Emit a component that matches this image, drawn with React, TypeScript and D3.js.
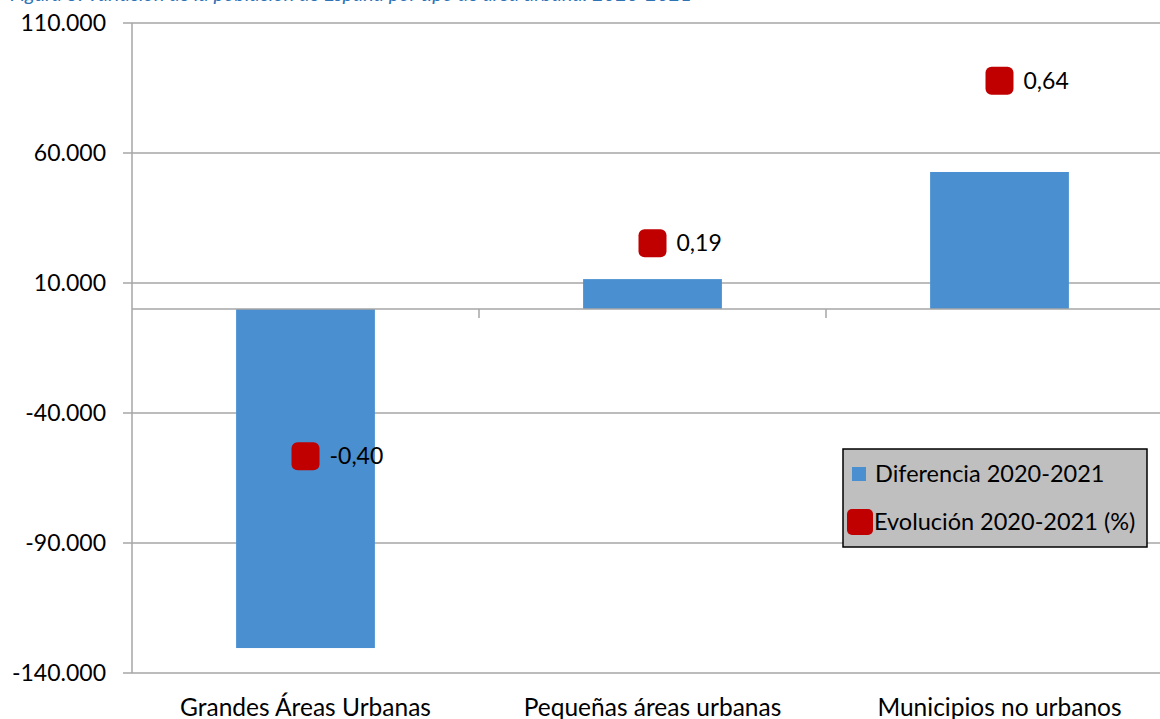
import React from 'react';
import * as d3 from 'd3';

const categories = ['Grandes Áreas Urbanas', 'Pequeñas áreas urbanas', 'Municipios no urbanos'];
const diferencia = [-130400, 11500, 52700];
const evolucion = [-0.4, 0.19, 0.64];
const yTicks = [110000, 60000, 10000, -40000, -90000, -140000];
const seriesNames = ['Diferencia 2020-2021', 'Evolución 2020-2021 (%)'];
const titleText = 'Figura 3. Variación de la población de España por tipo de área urbana. 2020-2021';

const W = 1160;
const H = 719;
const BLUE = '#4a8fd0';
const RED = '#c00000';
const GRID = '#a6a6a6';
const FONT = 'Lato, "Open Sans", sans-serif';

const es = d3.formatLocale({ decimal: ',', thousands: '.', grouping: [3], currency: ['', '€'], minus: '-' });
const fmtThousands = (v: number) => es.format(',')(v / 1000) + '.000';
const fmtPct = es.format('.2f');

const App = () => {
  const plotLeft = 132;
  const plotTop = 23;
  const plotBottom = 673;

  // eje principal (personas) y eje secundario oculto (%)
  const y = d3.scaleLinear().domain([-140000, 110000]).range([plotBottom, plotTop]);
  const y2 = d3.scaleLinear().domain([-1, 0.8]).range([plotBottom, plotTop]);
  const x = d3.scaleBand<string>()
    .domain(categories)
    .range([plotLeft, 1173])
    .paddingInner(0.6)
    .paddingOuter(0.3);
  const step = x.step();
  const y0 = y(0);

  return (
    <svg width={W} height={H} style={{ position: 'absolute', left: 0, top: 0, background: '#fff' }} fontFamily={FONT}>
      {/* título recortado por arriba, como en el original */}
      <text x={10} y={1} fontSize={20} fontStyle="italic" fill="#2e74b5">{titleText}</text>

      {/* cuadrícula y etiquetas del eje Y */}
      {yTicks.map(t => (
        <g key={t}>
          <line x1={plotLeft - 9} x2={W} y1={y(t)} y2={y(t)} stroke={GRID} strokeWidth={1.3} />
          <text x={106} y={y(t)} dy="0.35em" textAnchor="end" fontSize={23} fill="#000">{fmtThousands(t)}</text>
        </g>
      ))}
      <line x1={plotLeft} x2={plotLeft} y1={plotTop} y2={plotBottom} stroke={GRID} strokeWidth={1.5} />

      {/* barras */}
      {categories.map((c, i) => {
        const v = diferencia[i];
        return (
          <rect key={c} x={x(c)} width={x.bandwidth()} y={Math.min(y(v), y0)} height={Math.abs(y(v) - y0)} fill={BLUE} />
        );
      })}

      {/* eje de categorías en el cero */}
      <line x1={plotLeft} x2={W} y1={y0} y2={y0} stroke={GRID} strokeWidth={1.5} />
      {categories.map((c, i) => (
        <line key={c} x1={plotLeft + step * (i + 1)} x2={plotLeft + step * (i + 1)} y1={y0} y2={y0 + 9} stroke={GRID} strokeWidth={1.5} />
      ))}
      {categories.map(c => (
        <text key={c} x={(x(c) ?? 0) + x.bandwidth() / 2} y={716} textAnchor="middle" fontSize={24.5} fill="#000">{c}</text>
      ))}

      {/* marcadores de evolución */}
      {categories.map((c, i) => {
        const cx = (x(c) ?? 0) + x.bandwidth() / 2;
        const cy = y2(evolucion[i]);
        return (
          <g key={c}>
            <rect x={cx - 14} y={cy - 14} width={28} height={28} rx={6} fill={RED} />
            <text x={cx + 24} y={cy} dy="0.35em" fontSize={23} fill="#000">{fmtPct(evolucion[i])}</text>
          </g>
        );
      })}

      {/* leyenda */}
      <g>
        <rect x={843} y={449} width={304} height={98} fill="#bfbfbf" stroke="#000" strokeWidth={1.5} />
        <rect x={852} y={467} width={14} height={14} fill={BLUE} />
        <text x={875} y={474} dy="0.35em" fontSize={23.5} fill="#000">{seriesNames[0]}</text>
        <rect x={847} y={509} width={26} height={26} rx={5} fill={RED} />
        <text x={874} y={522} dy="0.35em" fontSize={23.5} fill="#000">{seriesNames[1]}</text>
      </g>
    </svg>
  );
};

export default App;
